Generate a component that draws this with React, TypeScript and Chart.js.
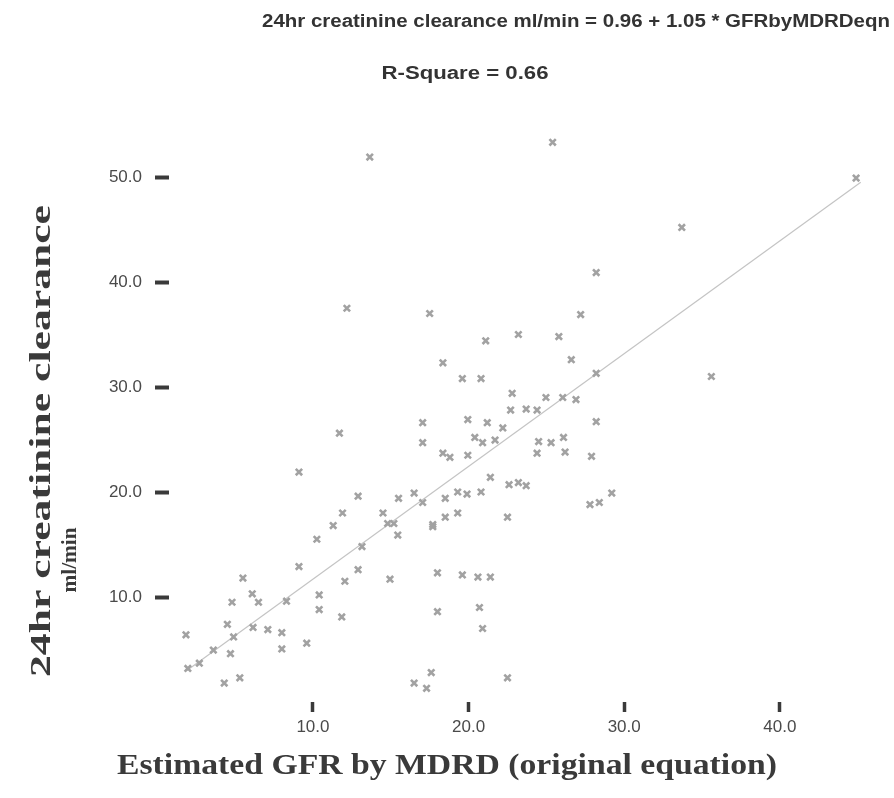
import React, { useEffect, useRef } from 'react';
import { Chart, registerables } from 'chart.js';

Chart.register(...registerables);

// Estimated GFR by MDRD (x) and 24hr creatinine clearance ml/min (y)
const gfrMdrd = [
  13.65, 25.4, 12.18, 17.5, 21.1, 23.2, 25.8, 27.2, 28.2, 33.7, 44.9, 35.6,
  18.35, 26.6, 19.6, 20.8, 28.2, 22.8, 24.97, 26.9, 26.05, 22.7, 23.7, 24.4,
  19.95, 21.2, 22.2, 17.05, 17.05, 20.4, 20.9, 21.7, 24.5, 25.3, 26.1, 28.2,
  18.35, 18.8, 19.95, 24.4, 26.2, 27.9, 21.4, 22.6, 23.2, 23.7, 17.05, 18.5,
  19.3, 19.9, 20.8, 18.5, 19.3, 17.7, 22.5, 29.2, 28.4, 27.8,
  11.7, 9.1, 12.9, 15.5, 16.5, 11.9, 14.5, 14.8, 15.2, 11.3,
  10.25, 15.45, 13.15, 9.1, 12.9, 12.05, 14.95, 5.5, 6.1, 4.8, 6.5, 8.3,
  10.4, 10.4, 11.85, 4.5, 6.15, 7.1, 8.0, 4.9, 8.0, 9.6, 4.7, 1.84, 3.6,
  2.7, 1.96, 5.3, 4.3, 16.5,
  17.7, 18.0, 19.6, 20.6, 21.4, 18.0, 20.7, 20.9, 22.5, 17.3, 17.6
];
const creatinineClearance = [
  51.9, 53.3, 37.5, 37.0, 34.4, 35.0, 34.8, 36.9, 40.9, 45.2, 49.9, 31.0,
  32.3, 32.6, 30.8, 30.8, 31.3, 29.4, 29.0, 28.8, 29.0, 27.8, 27.9, 27.8,
  26.9, 26.6, 26.1, 26.6, 24.7, 25.2, 24.7, 24.95, 24.8, 24.7, 25.2, 26.7,
  23.7, 23.3, 23.5, 23.7, 23.8, 23.4, 21.4, 20.7, 20.9, 20.6, 19.0, 19.4,
  20.0, 19.8, 20.0, 17.6, 18.0, 16.9, 17.6, 19.9, 19.0, 18.8,
  25.6, 21.9, 19.6, 19.4, 19.9, 18.0, 18.0, 17.0, 17.0, 16.8,
  15.5, 15.9, 14.8, 12.9, 12.6, 11.5, 11.7, 11.8, 10.3, 9.5, 9.5, 9.6,
  10.2, 8.8, 8.1, 7.4, 7.1, 6.9, 6.6, 6.2, 5.05, 5.6, 4.6, 6.4, 4.95,
  3.7, 3.2, 2.3, 1.8, 1.8,
  16.7, 12.3, 12.1, 11.9, 11.9, 8.6, 9.0, 7.0, 2.3, 1.3, 2.8
];

// Fitted line end points
const fitLineX = [1.9, 45.2];
const fitLineY = [3.0, 49.5];

const xTicks = [10, 20, 30, 40];
const yTicks = [10, 20, 30, 40, 50];

const titleText = '24hr creatinine clearance ml/min = 0.96 + 1.05 * GFRbyMDRDeqn';
const subtitleText = 'R-Square = 0.66';
const xAxisTitle = 'Estimated GFR by MDRD (original equation)';
const yAxisTitle = ['24hr creatinine clearance', 'ml/min'];

function drawFitted(ctx: CanvasRenderingContext2D, text: string, cx: number, cy: number, width: number, rotate: boolean) {
  ctx.save();
  ctx.translate(cx, cy);
  if (rotate) ctx.rotate(-Math.PI / 2);
  const w = ctx.measureText(text).width;
  ctx.scale(width / w, 1);
  ctx.fillText(text, 0, 0);
  ctx.restore();
}

const textPlugin = {
  id: 'freeText',
  afterDraw(chart: any) {
    const ctx: CanvasRenderingContext2D = chart.ctx;
    ctx.save();
    ctx.textAlign = 'center';
    ctx.textBaseline = 'middle';
    ctx.fillStyle = '#333333';
    ctx.font = 'bold 18px "Liberation Sans", Arial, sans-serif';
    drawFitted(ctx, titleText, 576, 22, 628, false);
    drawFitted(ctx, subtitleText, 465, 74, 167, false);
    ctx.fillStyle = '#3a3a3a';
    ctx.font = 'bold 30px "Liberation Serif", "Times New Roman", serif';
    drawFitted(ctx, xAxisTitle, 447, 766, 660, false);
    drawFitted(ctx, yAxisTitle[0], 42, 441, 472, true);
    ctx.font = 'bold 20px "Liberation Serif", "Times New Roman", serif';
    drawFitted(ctx, yAxisTitle[1], 71, 560, 65, true);
    ctx.restore();
  },
};

export default function App() {
  const canvasRef = useRef<HTMLCanvasElement | null>(null);

  useEffect(() => {
    const canvas = canvasRef.current;
    if (!canvas) return;
    const points = gfrMdrd.map((x, i) => ({ x, y: creatinineClearance[i] }));
    const line = fitLineX.map((x, i) => ({ x, y: fitLineY[i] }));
    const chart = new Chart(canvas, {
      type: 'scatter',
      data: {
        datasets: [
          {
            data: line,
            showLine: true,
            borderColor: '#c4c4c4',
            borderWidth: 1.2,
            pointRadius: 0,
            order: 2,
          },
          {
            data: points,
            pointStyle: 'crossRot',
            pointRadius: 4.5,
            borderWidth: 2.6,
            borderColor: '#a2a2a2',
            backgroundColor: '#a2a2a2',
            order: 1,
          },
        ],
      },
      options: {
        animation: false,
        responsive: false,
        devicePixelRatio: 1,
        layout: { padding: { left: 0, right: 13, top: 124.5, bottom: 0 } },
        plugins: {
          legend: { display: false },
          tooltip: { enabled: false },
          title: { display: false },
        },
        scales: {
          x: {
            type: 'linear',
            min: 0.75,
            max: 46.5,
            afterBuildTicks: (scale: any) => {
              scale.ticks = xTicks.map((v) => ({ value: v }));
            },
            afterFit: (scale: any) => {
              scale.height = 96;
            },
            border: { display: false },
            grid: {
              drawOnChartArea: false,
              drawTicks: true,
              tickLength: 10,
              tickWidth: 3.5,
              tickColor: '#3a3a3a',
            },
            ticks: {
              padding: 5,
              color: '#4a4a4a',
              font: { family: '"Liberation Sans", Arial, sans-serif', size: 17 },
              callback: (v: any) => Number(v).toFixed(1),
            },
          },
          y: {
            type: 'linear',
            min: 0,
            max: 55,
            afterBuildTicks: (scale: any) => {
              scale.ticks = yTicks.map((v) => ({ value: v }));
            },
            afterFit: (scale: any) => {
              scale.width = 169;
            },
            border: { display: false },
            grid: {
              drawOnChartArea: false,
              drawTicks: true,
              tickLength: 14,
              tickWidth: 4,
              tickColor: '#3a3a3a',
            },
            ticks: {
              padding: 13,
              color: '#4a4a4a',
              font: { family: '"Liberation Sans", Arial, sans-serif', size: 17 },
              callback: (v: any) => Number(v).toFixed(1),
            },
          },
        },
      },
      plugins: [textPlugin],
    });
    return () => chart.destroy();
  }, []);

  return (
    <div style={{ position: 'absolute', left: 0, top: 0, width: 894, height: 798, background: '#ffffff' }}>
      <canvas ref={canvasRef} width={894} height={798} style={{ display: 'block' }} />
    </div>
  );
}
